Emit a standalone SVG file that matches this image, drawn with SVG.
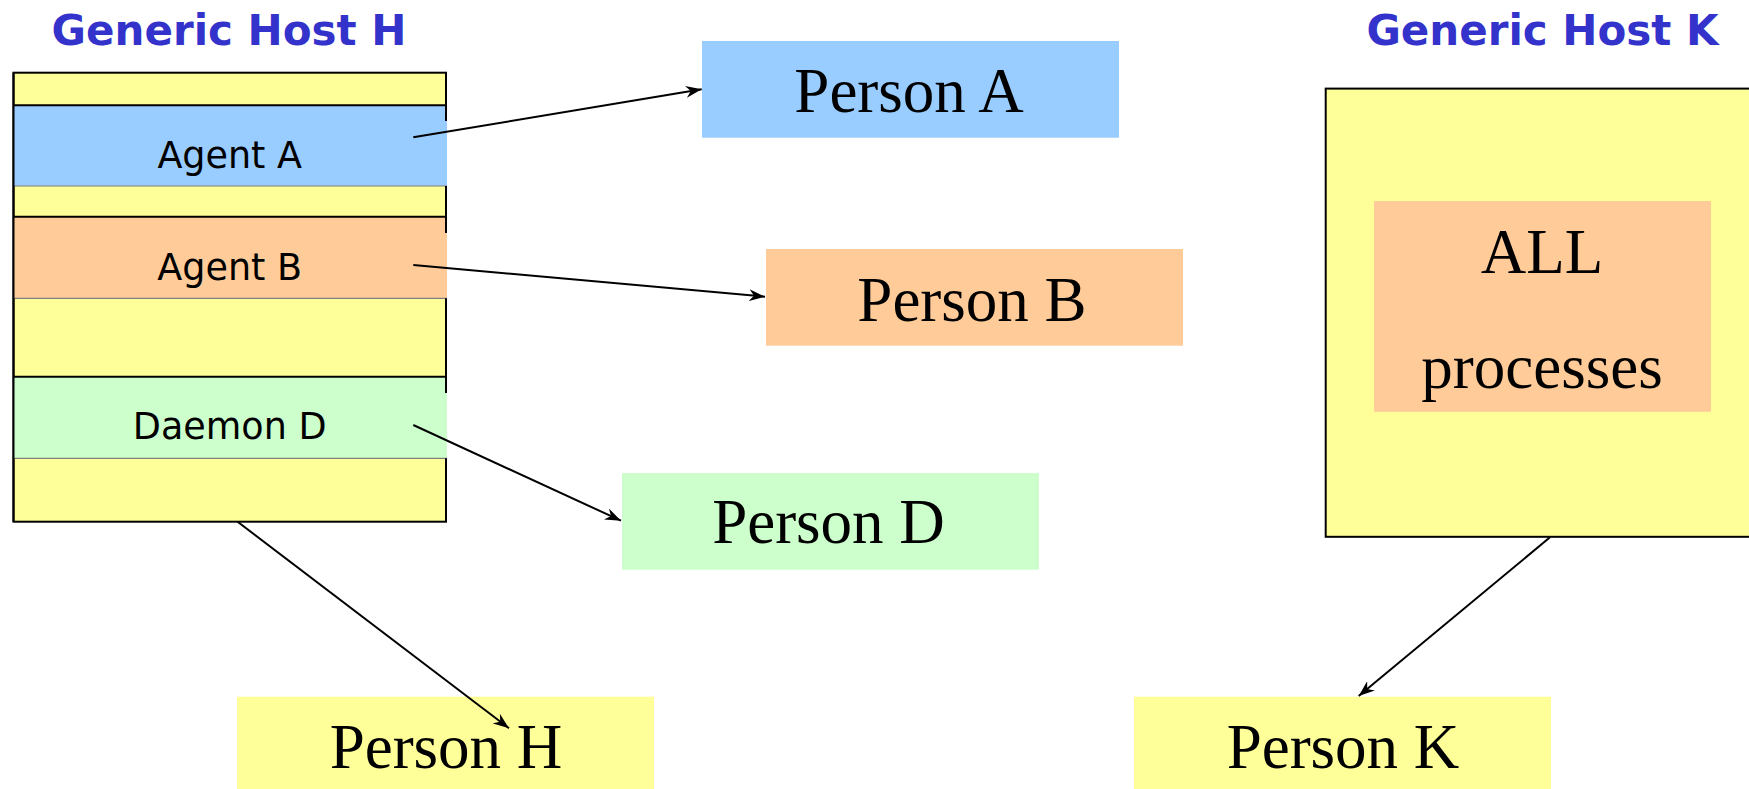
<svg xmlns="http://www.w3.org/2000/svg" width="1749" height="789" viewBox="0 0 1749 789">
<style>
.title{font-family:"DejaVu Sans",Verdana,sans-serif;font-weight:bold;font-size:42px;fill:#3333CC;text-anchor:middle}
.agent{font-family:"DejaVu Sans",Verdana,sans-serif;font-size:36.5px;fill:#000;text-anchor:middle}
.person{font-family:"Liberation Serif","Times New Roman",serif;font-size:63px;fill:#000;text-anchor:middle}
.conn{stroke:#000;stroke-width:2;fill:none;marker-end:url(#arr)}
.topline{stroke:#000;stroke-width:2}
.botline{stroke:#808080;stroke-width:1.2}
</style>
<defs>
<marker id="arr" viewBox="0 0 16 12" refX="16" refY="6" markerWidth="16" markerHeight="12" markerUnits="userSpaceOnUse" orient="auto">
<path d="M0,0 L16,6 L0,12 L5,6 z" fill="#000"/>
</marker>
</defs>
<rect width="1749" height="789" fill="#fff"/>

<g id="hostH">
<text class="title" x="229" y="45">Generic Host H</text>
<rect x="13.5" y="72.7" width="432.5" height="449" fill="#FFFF99" stroke="#000" stroke-width="2"/>
</g>
<g id="agentA">
<rect x="13.5" y="105.3" width="433.5" height="80.7" fill="#99CCFF"/>
<line class="topline" x1="13.5" y1="105.3" x2="446" y2="105.3"/>
<line class="botline" x1="13.5" y1="186" x2="447" y2="186"/>
<text class="agent" x="229.7" y="167.7">Agent A</text>
</g>
<g id="agentB">
<rect x="13.5" y="216.7" width="433.5" height="81.6" fill="#FFCC99"/>
<line class="topline" x1="13.5" y1="216.7" x2="446" y2="216.7"/>
<line class="botline" x1="13.5" y1="298.3" x2="447" y2="298.3"/>
<text class="agent" x="229.7" y="280">Agent B</text>
</g>
<g id="daemonD">
<rect x="13.5" y="376.7" width="433.5" height="81.6" fill="#CCFFCC"/>
<line class="topline" x1="13.5" y1="376.7" x2="446" y2="376.7"/>
<line class="botline" x1="13.5" y1="458.3" x2="447" y2="458.3"/>
<text class="agent" x="229.7" y="439.3">Daemon D</text>
</g>
<g id="hostH-left">
<line x1="13.5" y1="72.7" x2="13.5" y2="521.7" stroke="#000" stroke-width="2"/>
<line x1="446" y1="72.7" x2="446" y2="121" stroke="#000" stroke-width="2"/>
<line x1="446" y1="186" x2="446" y2="233" stroke="#000" stroke-width="2"/>
<line x1="446" y1="298.3" x2="446" y2="393" stroke="#000" stroke-width="2"/>
<line x1="446" y1="458.3" x2="446" y2="521.7" stroke="#000" stroke-width="2"/>
</g>

<g id="hostK">
<text class="title" x="1542.5" y="44.6">Generic Host K</text>
<rect x="1325.7" y="88.6" width="440" height="448.2" fill="#FFFF99" stroke="#000" stroke-width="2"/>
</g>
<g id="allProcesses">
<rect x="1374" y="201" width="337" height="210.8" fill="#FFCC99"/>
<text class="person" x="1542" y="273.2">ALL</text>
<text class="person" x="1542" y="387.5">processes</text>
</g>

<g id="personA">
<rect x="702" y="41" width="417" height="96.7" fill="#99CCFF"/>
<text class="person" x="909" y="112.3">Person A</text>
</g>
<g id="personB">
<rect x="766" y="249" width="417" height="96.7" fill="#FFCC99"/>
<text class="person" x="972" y="321">Person B</text>
</g>
<g id="personD">
<rect x="622" y="473" width="417" height="96.7" fill="#CCFFCC"/>
<text class="person" x="828.5" y="543.3">Person D</text>
</g>
<g id="personH">
<rect x="237" y="696.7" width="417" height="96.7" fill="#FFFF99"/>
<text class="person" x="446" y="768.3">Person H</text>
</g>
<g id="personK">
<rect x="1134" y="696.7" width="417" height="96.7" fill="#FFFF99"/>
<text class="person" x="1343" y="768.3">Person K</text>
</g>

<g id="connectors">
<line class="conn" x1="413.3" y1="137.3" x2="701.7" y2="89.3"/>
<line class="conn" x1="413.3" y1="265" x2="765" y2="296.7"/>
<line class="conn" x1="413.3" y1="425" x2="621" y2="520.7"/>
<line class="conn" x1="237.6" y1="521.7" x2="509" y2="728.3"/>
<line class="conn" x1="1550" y1="537.3" x2="1358.7" y2="696"/>
</g>
</svg>
